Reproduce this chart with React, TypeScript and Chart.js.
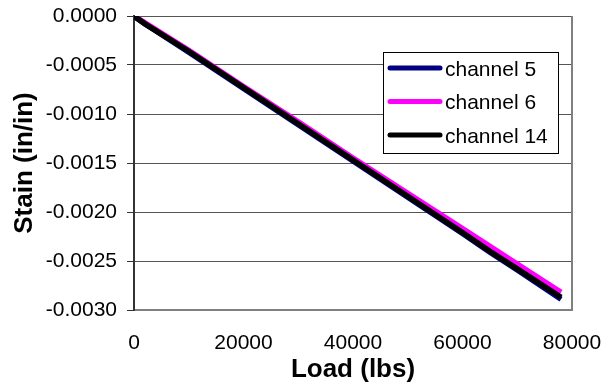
import { useEffect, useRef } from "react";
import { Chart, registerables } from "chart.js";

Chart.register(...registerables);

const LOAD = [0, 2000, 10000, 20000, 30000, 40000, 50000, 60000, 65000, 70000, 78000];
const CH5 = [0, -0.00008, -0.00037, -0.00074, -0.00111, -0.00148, -0.00185, -0.00222, -0.00241, -0.00259, -0.00289];
const CH6 = [0, -0.00007, -0.00035, -0.00072, -0.00108, -0.00145, -0.00181, -0.00217, -0.00235, -0.00253, -0.00282];
const CH14 = [0, -0.00008, -0.00036, -0.00073, -0.0011, -0.00147, -0.00184, -0.00221, -0.0024, -0.00258, -0.00287];

const SERIES_NAMES = ["channel 5", "channel 6", "channel 14"];
const SERIES_COLORS = ["#000080", "#FF00FF", "#000000"];
const SERIES_ORDER = [2, 1, 0];

const X_TICKS = [0, 20000, 40000, 60000, 80000];
const Y_TICKS = [0, -0.0005, -0.001, -0.0015, -0.002, -0.0025, -0.003];

const X_TITLE = "Load (lbs)";
const Y_TITLE = "Stain (in/in)";

const FONT = "'Liberation Sans', Arial, Helvetica, sans-serif";

const frameAndLegend = {
  id: "frameAndLegend",
  afterDraw(chart: any) {
    const { ctx, chartArea } = chart;
    ctx.save();
    // right border of plot area
    ctx.strokeStyle = "#808080";
    ctx.lineWidth = 2;
    ctx.beginPath();
    ctx.moveTo(chartArea.right, chartArea.top);
    ctx.lineTo(chartArea.right, chartArea.bottom + 1);
    ctx.stroke();

    // legend box
    const w = 175;
    const h = 101;
    const x0 = chartArea.right - 14 - w;
    const y0 = chartArea.top + 36;
    ctx.fillStyle = "#ffffff";
    ctx.fillRect(x0, y0, w, h);
    ctx.strokeStyle = "#000000";
    ctx.lineWidth = 1;
    ctx.strokeRect(x0 + 0.5, y0 + 0.5, w, h);
    ctx.font = `21px ${FONT}`;
    ctx.textBaseline = "middle";
    ctx.textAlign = "left";
    chart.data.datasets.forEach((ds: any, i: number) => {
      const yy = y0 + 16 + i * 33.5;
      ctx.strokeStyle = ds.borderColor;
      ctx.lineWidth = 5;
      ctx.lineCap = "round";
      ctx.beginPath();
      ctx.moveTo(x0 + 7, yy);
      ctx.lineTo(x0 + 57, yy);
      ctx.stroke();
      ctx.fillStyle = "#000";
      ctx.fillText(ds.label, x0 + 62, yy + 2);
    });
    ctx.restore();
  },
};

export default function App() {
  const ref = useRef<HTMLCanvasElement>(null);
  useEffect(() => {
    if (!ref.current) return;
    const series = [CH5, CH6, CH14];
    const chart = new Chart(ref.current, {
      type: "line",
      data: {
        datasets: series.map((vals, i) => ({
          label: SERIES_NAMES[i],
          data: LOAD.map((x, j) => ({ x, y: vals[j] })),
          borderColor: SERIES_COLORS[i],
          backgroundColor: SERIES_COLORS[i],
          borderWidth: 5.5,
          pointRadius: 0,
          tension: 0,
          fill: false,
          order: SERIES_ORDER[i],
        })),
      },
      options: {
        responsive: false,
        animation: false,
        devicePixelRatio: 1,
        layout: { padding: { left: 0, right: 44, top: 16, bottom: 0 } },
        plugins: { legend: { display: false }, tooltip: { enabled: false } },
        scales: {
          x: {
            type: "linear",
            min: 0,
            max: 80000,
            afterBuildTicks: (s: any) => {
              s.ticks = X_TICKS.map((v) => ({ value: v }));
            },
            afterFit: (s: any) => {
              s.height = 75;
              s.paddingLeft = 0;
              s.paddingRight = 0;
            },
            grid: { display: false, drawTicks: false },
            border: { display: true, color: "#808080", width: 2 },
            ticks: {
              padding: 21,
              color: "#000",
              maxRotation: 0,
              font: { family: FONT, size: 21 },
              callback: (v: any) => String(v),
            },
            title: {
              display: true,
              text: X_TITLE,
              color: "#000",
              font: { family: FONT, size: 26, weight: "bold" },
              padding: { top: 0, bottom: 0 },
            },
          },
          y: {
            type: "linear",
            min: -0.003,
            max: 0,
            afterBuildTicks: (s: any) => {
              s.ticks = Y_TICKS.map((v) => ({ value: v }));
            },
            afterFit: (s: any) => {
              s.width = 134;
              s.paddingTop = 0;
              s.paddingBottom = 0;
            },
            grid: { color: "#555555", lineWidth: 1, drawTicks: true, tickLength: 7, tickColor: "#333333" },
            border: { display: true, color: "#333333", width: 2 },
            ticks: {
              padding: 10,
              color: "#000",
              font: { family: FONT, size: 21 },
              callback: (v: any) => Number(v).toFixed(4),
            },
            title: {
              display: true,
              text: Y_TITLE,
              color: "#000",
              font: { family: FONT, size: 26, weight: "bold" },
              padding: { top: 9, bottom: 0 },
            },
          },
        },
      },
      plugins: [frameAndLegend],
    });
    return () => chart.destroy();
  }, []);
  return (
    <canvas
      ref={ref}
      width={616}
      height={385}
      style={{ position: "fixed", left: 0, top: 0, width: 616, height: 385 }}
    />
  );
}
